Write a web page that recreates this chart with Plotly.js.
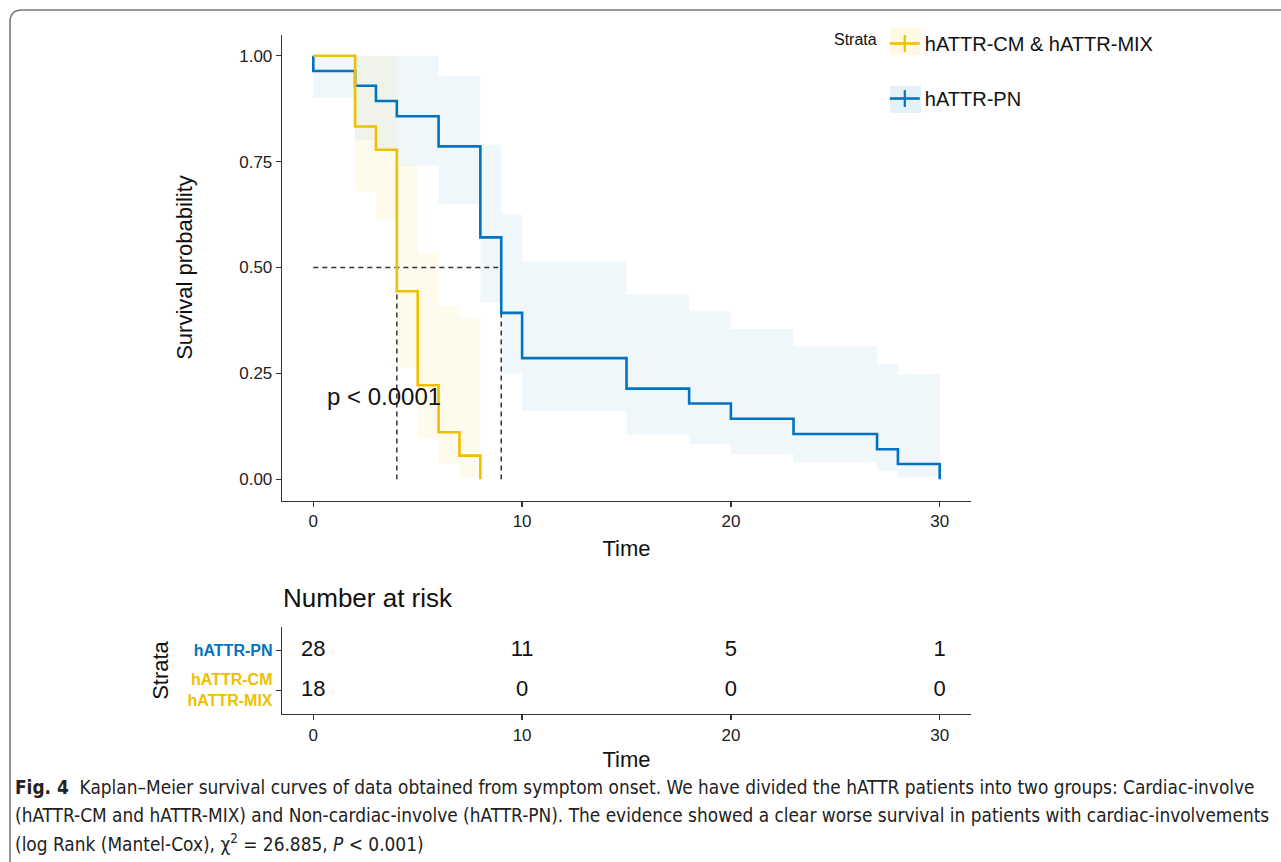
<!DOCTYPE html>
<html><head><meta charset="utf-8">
<script src="https://cdn.plot.ly/plotly-3.0.1.min.js"></script>
<style>html,body{margin:0;padding:0;background:#fff}#chart{width:1281px;height:862px}</style>
</head><body><div id="chart"></div>
<script>
// ---------- data ----------
const strataNames = ["hATTR-CM & hATTR-MIX", "hATTR-PN"];
const strataColors = ["#EFC000", "#0073C2"];

const cmTimes = [0, 2, 3, 4, 5, 6, 7, 8];
const cmSurv  = [1, 0.833, 0.778, 0.444, 0.222, 0.111, 0.056, 0];
const cmBandTimes = [0, 2, 3, 4, 5, 6, 7, 8];
const cmUpper = [1, 1, 1, 0.745, 0.535, 0.41, 0.38];
const cmLower = [1, 0.68, 0.61, 0.264, 0.097, 0.038, 0.005];

const pnTimes = [0, 0, 2, 3, 4, 6, 8, 9, 10, 15, 18, 20, 23, 27, 28, 30];
const pnSurv  = [1, 0.964, 0.929, 0.893, 0.857, 0.786, 0.571, 0.393, 0.286, 0.214, 0.179, 0.143, 0.107, 0.071, 0.036, 0];
const pnBandTimes = [0, 2, 3, 4, 6, 8, 9, 10, 15, 18, 20, 23, 27, 28, 30];
const pnUpper = [1, 1, 1, 1, 0.953, 0.79, 0.625, 0.514, 0.436, 0.397, 0.355, 0.314, 0.271, 0.248];
const pnLower = [0.90, 0.80, 0.78, 0.74, 0.65, 0.418, 0.25, 0.161, 0.106, 0.082, 0.06, 0.04, 0.02, 0.005];

const medianTimes = [4, 9];
const medianLevel = 0.5;
const pValueText = "p < 0.0001";

const xTickVals = [0, 10, 20, 30];
const yTickVals = [0, 0.25, 0.5, 0.75, 1];

const riskTimes = [0, 10, 20, 30];
const riskPN = [28, 11, 5, 1];
const riskCM = [18, 0, 0, 0];
const riskRowLabels = [["hATTR-PN"], ["hATTR-CM", "hATTR-MIX"]];
const riskRowColors = ["#0073C2", "#EFC000"];
const riskRowPos = [2, 1];

const captionLines = [
  "<b>Fig. 4</b>  Kaplan–Meier survival curves of data obtained from symptom onset. We have divided the hATTR patients into two groups: Cardiac-involve",
  "(hATTR-CM and hATTR-MIX) and Non-cardiac-involve (hATTR-PN). The evidence showed a clear worse survival in patients with cardiac-involvements",
  "(log Rank (Mantel-Cox), χ<sup>2</sup> = 26.885, <i>P</i> < 0.001)"
];

// ---------- helpers ----------
const W = 1281, H = 862;
const px = v => v / W;
const py = v => 1 - v / H;
const ext = a => a.concat([a[a.length - 1]]);
const fillRGBA = ["rgba(239,192,0,0.07)", "rgba(0,115,194,0.06)"];
const FONT = "Liberation Sans, Arial, sans-serif";

function band(times, up, lo, fc) {
  return [
    {x: times, y: ext(up), mode: "lines", line: {shape: "hv", width: 0}, hoverinfo: "skip", showlegend: false, xaxis: "x", yaxis: "y"},
    {x: times, y: ext(lo), mode: "lines", line: {shape: "hv", width: 0}, fill: "tonexty", fillcolor: fc, hoverinfo: "skip", showlegend: false, xaxis: "x", yaxis: "y"}
  ];
}

const traces = [];
traces.push(...band(pnBandTimes, pnUpper, pnLower, fillRGBA[1]));
traces.push(...band(cmBandTimes, cmUpper, cmLower, fillRGBA[0]));

// median dashed lines
const mx = [0, Math.max(...medianTimes)], my = [medianLevel, medianLevel];
medianTimes.forEach(m => { mx.push(null, m, m); my.push(null, medianLevel, 0); });
traces.push({x: mx, y: my, mode: "lines", line: {color: "#333", width: 1.5, dash: "5px,4px"}, hoverinfo: "skip", showlegend: false});

traces.push({x: pnTimes, y: pnSurv, mode: "lines", line: {shape: "hv", color: strataColors[1], width: 2.6}, showlegend: false, name: strataNames[1]});
traces.push({x: cmTimes, y: cmSurv, mode: "lines", line: {shape: "hv", color: strataColors[0], width: 2.6}, showlegend: false, name: strataNames[0]});

// legend keys
strataNames.forEach((n, i) => {
  traces.push({x: [null], y: [null], name: n, legendgroup: "g" + i, mode: "lines+markers",
    line: {color: strataColors[i], width: 2.6}, marker: {symbol: "line-ns-open", size: 12, color: strataColors[i], line: {width: 2.2, color: strataColors[i]}},
    showlegend: true});
});

// risk table
traces.push({x: riskTimes, y: riskTimes.map(() => riskRowPos[0]), text: riskPN.map(String), mode: "text", textposition: "middle center",
  textfont: {size: 22, color: "#111", family: FONT}, xaxis: "x2", yaxis: "y2", showlegend: false, hoverinfo: "skip"});
traces.push({x: riskTimes, y: riskTimes.map(() => riskRowPos[1]), text: riskCM.map(String), mode: "text", textposition: "middle center",
  textfont: {size: 22, color: "#111", family: FONT}, xaxis: "x2", yaxis: "y2", showlegend: false, hoverinfo: "skip"});

const rowTickText = riskRowLabels.map((lines, i) => lines.map(l => `<span style="color:${riskRowColors[i]};font-weight:bold">${l}</span>`).join("<br>"));

const axisCommon = {showline: true, linecolor: "#333", linewidth: 1.3, ticks: "outside", ticklen: 5, tickwidth: 1.3, tickcolor: "#333",
  showgrid: false, zeroline: false, tickfont: {size: 17, color: "#222", family: FONT}};
const xDomain = [px(282), px(971)];

const annotations = [
  {xref: "x", yref: "y", x: 0.55, y: 0.196, xanchor: "left", yanchor: "middle", text: pValueText, showarrow: false, font: {size: 24, color: "#111", family: FONT}},
  {xref: "paper", yref: "paper", x: px(281), y: py(598), xanchor: "left", yanchor: "middle", text: "Number at risk", showarrow: false, font: {size: 26, color: "#111", family: FONT}}
];
// legend key backgrounds (light fill boxes behind symbols, as in the reference)
const keyBoxY = [[28, 55], [86, 113]];
const capY = [787, 815, 843];
captionLines.forEach((t, i) => annotations.push({xref: "paper", yref: "paper", x: px(13), y: py(capY[i]), xanchor: "left", yanchor: "middle",
  text: t, showarrow: false, align: "left", font: {size: 18.9, color: "#222", family: "Liberation Sans Narrow, DejaVu Sans Condensed, sans-serif"}}));

const shapes = [{type: "path", xref: "paper", yref: "paper",
    path: `M ${px(10)},0 L ${px(10)},${py(22)} Q ${px(10)},${py(10)} ${px(22)},${py(10)} L 1.01,${py(10)}`,
    line: {color: "#7a7a7a", width: 1.6}}];
keyBoxY.forEach((b, i) => shapes.push({type: "rect", xref: "paper", yref: "paper", x0: px(890), x1: px(921), y0: py(b[1]), y1: py(b[0]),
  line: {width: 0}, fillcolor: fillRGBA[i].replace(/0\.0\d\)$/, "0.10)"), layer: "below"}));

const layout = {
  width: W, height: H, margin: {l: 0, r: 0, t: 0, b: 0}, paper_bgcolor: "#fff", plot_bgcolor: "rgba(0,0,0,0)",
  font: {family: FONT, color: "#111"},
  xaxis: Object.assign({}, axisCommon, {domain: xDomain, range: [-1.5, 31.5], tickvals: xTickVals, anchor: "y",
    title: {text: "Time", font: {size: 22, family: FONT, color: "#111"}, standoff: 10}}),
  yaxis: Object.assign({}, axisCommon, {domain: [py(500.5), py(34.5)], range: [-0.05, 1.05], tickvals: yTickVals, tickformat: ".2f", anchor: "x",
    title: {text: "Survival probability", font: {size: 22, family: FONT, color: "#111"}, standoff: 40}}),
  xaxis2: Object.assign({}, axisCommon, {domain: xDomain, range: [-1.5, 31.5], tickvals: xTickVals, anchor: "y2",
    title: {text: "Time", font: {size: 22, family: FONT, color: "#111"}, standoff: 8}}),
  yaxis2: Object.assign({}, axisCommon, {domain: [py(714), py(627)], range: [0.4, 2.6], tickvals: riskRowPos, ticktext: rowTickText, anchor: "x2",
    tickfont: {size: 16, family: FONT}, title: {text: "Strata", font: {size: 22, family: FONT, color: "#111"}, standoff: 12}}),
  legend: {x: px(832), y: py(24), xanchor: "left", yanchor: "top", bgcolor: "rgba(0,0,0,0)", traceorder: "grouped", tracegroupgap: 26,
    title: {text: "Strata", side: "left", font: {size: 16, family: FONT, color: "#111"}}, font: {size: 20, family: FONT, color: "#111"}},
  annotations: annotations,
  shapes: shapes,
  showlegend: true
};

Plotly.newPlot("chart", traces, layout, {displayModeBar: false, staticPlot: true});
</script>
</body></html>
